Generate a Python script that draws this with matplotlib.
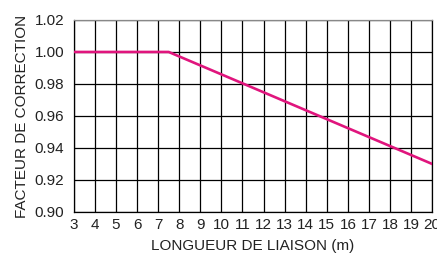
import numpy as np
import matplotlib.pyplot as plt

plt.rcParams['font.family'] = ['Liberation Sans', 'DejaVu Sans']

# data
longueur = [3, 7.5, 20]
facteur = [1.00, 1.00, 0.93]

x_ticks = list(range(3, 21))
y_ticks = [0.90, 0.92, 0.94, 0.96, 0.98, 1.00, 1.02]

fig = plt.figure(figsize=(4.37, 2.56), dpi=100)
ax = fig.add_axes([0.169, 0.172, 0.820, 0.750])

ax.plot(longueur, facteur, color="#e0157d", lw=1.9, zorder=3)

ax.set_xlim(3, 20)
ax.set_ylim(0.90, 1.02)
ax.set_xticks(x_ticks)
ax.set_yticks(y_ticks)
ax.set_yticklabels([f"{v:.2f}" for v in y_ticks])
ax.grid(True, color="black", lw=0.9)
ax.tick_params(length=0, labelsize=11, colors="#222222")
ax.tick_params(axis="x", pad=4.5)
ax.tick_params(axis="y", pad=7)

for s in ax.spines.values():
    s.set_color("black")
    s.set_linewidth(0.9)
ax.spines["top"].set_color("#888888")

ax.set_xlabel("LONGUEUR DE LIAISON (m)", fontsize=11, labelpad=5, color="#222222")
ax.set_ylabel("FACTEUR DE CORRECTION", fontsize=11, labelpad=4, color="#222222")

fig.savefig("out.png", dpi=100)
